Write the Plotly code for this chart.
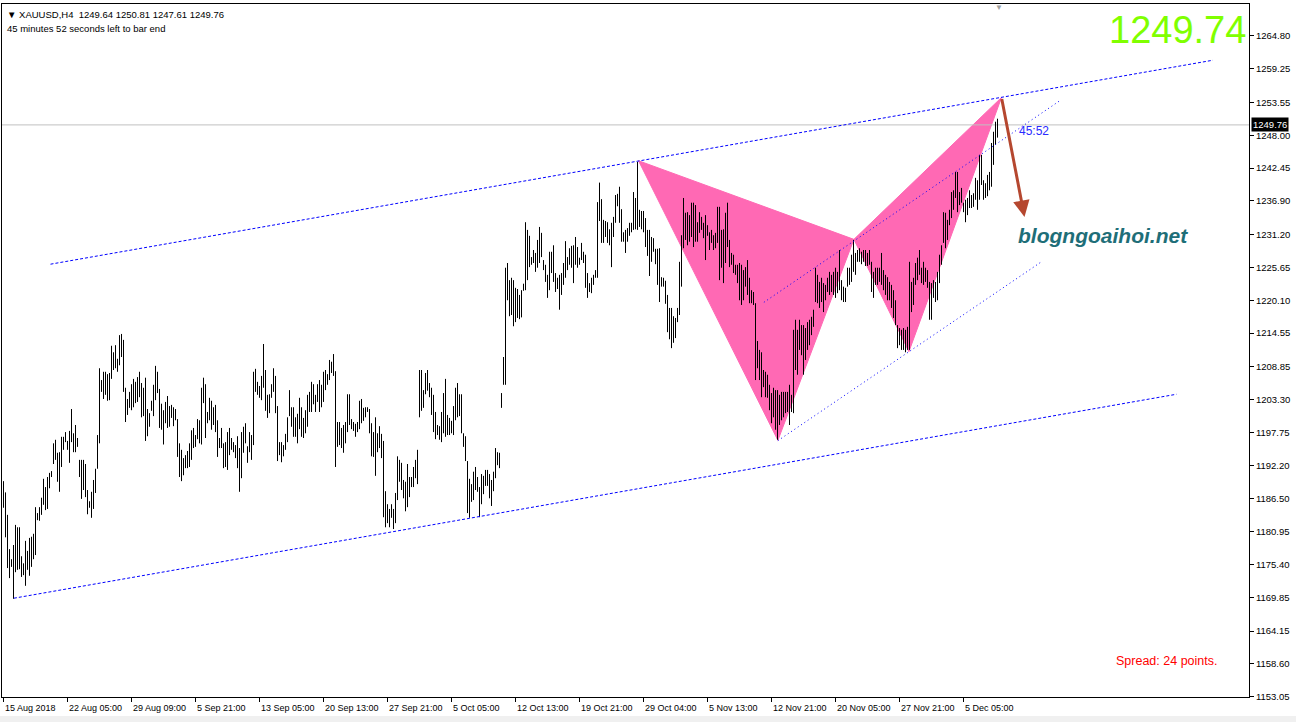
import plotly.graph_objects as go

# ---------------- data ----------------
symbol = "XAUUSD,H4"
last_ohlc = [1249.64, 1250.81, 1247.61, 1249.76]   # O H L C of current bar
bid_price = 1249.74
spread_points = 24
countdown = "45:52"
countdown_text = "45 minutes 52 seconds left to bar end"

highs = [
    1189.5, 1187.6, 1183.8, 1178.0, 1176.3, 1178.7, 1182.1, 1181.7, 1181.7, 1176.8,
    1175.6, 1179.4, 1177.7, 1179.9, 1180.1, 1180.6, 1185.1, 1184.1, 1185.1, 1186.7,
    1189.9, 1188.5, 1190.2, 1190.9, 1191.2, 1195.9, 1196.5, 1194.3, 1194.4, 1197.0,
    1197.0, 1197.8, 1196.3, 1198.0, 1201.7, 1197.6, 1199.0, 1196.8, 1193.1, 1193.1,
    1193.1, 1192.4, 1188.0, 1186.1, 1187.7, 1189.7, 1191.6, 1197.3, 1208.6, 1206.6,
    1208.0, 1208.0, 1207.6, 1207.8, 1212.4, 1211.3, 1212.5, 1210.2, 1214.2, 1214.4,
    1213.4, 1205.3, 1203.4, 1204.6, 1205.9, 1206.8, 1206.3, 1207.1, 1208.0, 1206.1,
    1205.3, 1207.0, 1201.7, 1201.0, 1203.1, 1205.8, 1209.0, 1208.0, 1205.1, 1202.6,
    1201.5, 1202.9, 1203.9, 1202.2, 1202.4, 1202.0, 1201.7, 1200.0, 1195.9, 1194.8,
    1193.4, 1193.9, 1194.6, 1195.9, 1198.1, 1198.5, 1197.3, 1200.0, 1199.8, 1205.3,
    1207.0, 1205.9, 1201.2, 1203.6, 1203.1, 1202.0, 1202.4, 1199.8, 1196.8, 1198.5,
    1195.9, 1196.1, 1197.8, 1198.5, 1196.8, 1196.1, 1195.6, 1197.1, 1195.1, 1197.8,
    1198.7, 1199.3, 1195.4, 1197.8, 1197.3, 1208.0, 1208.5, 1206.3, 1205.6, 1207.3,
    1212.7, 1208.3, 1204.1, 1204.2, 1205.9, 1208.6, 1207.3, 1202.2, 1196.1, 1196.1,
    1195.6, 1197.5, 1200.3, 1204.9, 1202.0, 1202.0, 1200.3, 1200.9, 1203.6, 1202.0,
    1200.2, 1201.5, 1204.1, 1204.6, 1206.3, 1205.9, 1204.1, 1205.9, 1206.6, 1205.8,
    1208.0, 1208.3, 1207.6, 1210.0, 1209.7, 1211.0, 1208.1, 1199.5, 1199.5, 1198.5,
    1199.0, 1199.5, 1204.2, 1204.2, 1200.0, 1199.5, 1199.2, 1199.5, 1203.1, 1203.4,
    1201.9, 1202.0, 1202.0, 1201.7, 1199.3, 1197.8, 1200.3, 1197.6, 1198.8, 1197.5,
    1196.3, 1187.8, 1185.6, 1184.8, 1185.6, 1184.8, 1187.5, 1193.7, 1193.1, 1192.6,
    1189.7, 1189.4, 1192.4, 1190.2, 1190.2, 1191.9, 1193.1, 1194.8, 1208.3, 1208.3,
    1204.9, 1207.8, 1208.3, 1206.1, 1205.3, 1204.1, 1201.2, 1199.0, 1198.8, 1201.2,
    1204.4, 1206.8, 1200.7, 1200.2, 1199.7, 1202.2, 1205.3, 1206.1, 1204.2, 1204.2,
    1197.6, 1197.1, 1192.9, 1189.9, 1189.0, 1191.1, 1191.9, 1190.2, 1188.5, 1190.7,
    1190.4, 1191.4, 1191.4, 1190.7, 1189.7, 1191.1, 1195.1, 1194.4, 1194.3, 1204.4,
    1210.5, 1225.6, 1226.4, 1223.5, 1223.9, 1223.5, 1222.2, 1222.0, 1221.0, 1221.8,
    1222.9, 1233.3, 1232.0, 1231.0, 1227.4, 1228.6, 1228.1, 1230.3, 1232.5, 1231.5,
    1226.9, 1226.1, 1224.4, 1228.3, 1228.3, 1229.4, 1224.7, 1223.9, 1224.4, 1224.7,
    1226.4, 1230.1, 1227.4, 1228.9, 1229.3, 1229.4, 1230.8, 1229.1, 1227.3, 1229.8,
    1228.3, 1227.8, 1224.7, 1223.0, 1223.9, 1224.4, 1225.2, 1236.7, 1240.0, 1237.2,
    1233.7, 1233.5, 1233.3, 1232.1, 1233.2, 1234.2, 1237.9, 1238.1, 1239.3, 1235.5,
    1231.6, 1232.0, 1232.3, 1233.2, 1233.2, 1238.4, 1237.4, 1243.5, 1235.4, 1235.2,
    1235.2, 1234.0, 1232.0, 1232.0, 1230.8, 1230.6, 1228.8, 1228.8, 1228.9, 1224.0,
    1223.9, 1223.4, 1221.0, 1218.8, 1218.8, 1217.4, 1217.1, 1218.8, 1226.6, 1231.1,
    1237.4, 1234.9, 1235.0, 1234.5, 1236.6, 1236.6, 1236.2, 1233.3, 1235.0, 1234.2,
    1233.2, 1234.5, 1232.8, 1231.6, 1232.0, 1231.1, 1231.5, 1235.9, 1235.9, 1232.0,
    1232.1, 1234.9, 1236.6, 1230.3, 1228.1, 1227.8, 1226.1, 1226.1, 1226.4, 1226.1,
    1225.2, 1225.7, 1226.9, 1223.9, 1221.8, 1221.5, 1219.6, 1213.2, 1211.7, 1211.3,
    1208.3, 1208.0, 1207.5, 1205.8, 1204.4, 1205.3, 1204.9, 1204.9, 1204.1, 1204.6,
    1204.6, 1204.6, 1204.6, 1205.8, 1204.1, 1215.1, 1216.8, 1215.1, 1216.8, 1215.9,
    1215.9, 1215.4, 1216.4, 1216.8, 1217.3, 1218.5, 1225.6, 1224.4, 1223.2, 1223.9,
    1223.0, 1222.7, 1223.9, 1224.9, 1224.4, 1224.9, 1225.6, 1224.9, 1228.6, 1223.5,
    1222.4, 1222.2, 1225.6, 1225.6, 1227.8, 1230.3, 1228.1, 1228.6, 1228.9, 1228.3,
    1228.6, 1228.6, 1228.1, 1228.6, 1226.6, 1224.9, 1225.6, 1225.6, 1225.6, 1228.1,
    1225.2, 1224.4, 1224.0, 1223.2, 1222.7, 1221.8, 1220.1, 1215.9, 1215.4, 1215.1,
    1215.4, 1215.1, 1215.6, 1226.6, 1223.2, 1223.9, 1226.4, 1227.3, 1228.6, 1225.6,
    1226.6, 1225.6, 1225.2, 1223.2, 1223.0, 1223.5, 1223.2, 1224.9, 1227.8, 1229.4,
    1235.0, 1234.9, 1233.7, 1235.4, 1238.4, 1238.7, 1241.8, 1241.8, 1238.4, 1239.1,
    1236.6, 1237.1, 1237.4, 1238.7, 1237.9, 1238.2, 1240.8, 1240.4, 1244.7, 1244.7,
    1240.4, 1239.9, 1241.3, 1241.8, 1246.7, 1248.6, 1250.3, 1250.81,
]

lows = [
    1185.0, 1180.0, 1174.8, 1173.1, 1175.0, 1169.6, 1174.1, 1174.5, 1174.6, 1173.3,
    1173.6, 1171.8, 1174.5, 1173.5, 1175.0, 1176.3, 1177.0, 1182.9, 1182.8, 1183.8,
    1185.5, 1184.6, 1184.8, 1188.3, 1190.2, 1192.4, 1193.1, 1189.4, 1187.7, 1191.9,
    1194.8, 1196.1, 1194.8, 1192.6, 1196.1, 1194.4, 1194.4, 1195.3, 1190.2, 1186.5,
    1188.0, 1186.8, 1183.9, 1185.0, 1183.3, 1184.8, 1187.5, 1191.6, 1195.9, 1204.6,
    1203.4, 1204.1, 1203.1, 1203.2, 1206.8, 1208.3, 1208.6, 1208.0, 1209.1, 1210.5,
    1204.6, 1199.5, 1200.7, 1201.9, 1201.5, 1202.0, 1202.7, 1202.9, 1203.7, 1200.3,
    1200.5, 1196.3, 1197.1, 1198.7, 1201.4, 1200.5, 1203.2, 1204.4, 1198.5, 1198.2,
    1195.7, 1199.3, 1198.5, 1198.7, 1200.2, 1198.8, 1199.8, 1193.6, 1190.2, 1189.5,
    1190.5, 1191.7, 1191.7, 1191.9, 1193.1, 1195.1, 1195.3, 1196.6, 1195.9, 1195.7,
    1202.7, 1196.8, 1199.3, 1199.8, 1198.2, 1199.0, 1197.8, 1193.6, 1195.1, 1195.1,
    1191.7, 1191.9, 1191.4, 1193.9, 1194.8, 1194.4, 1193.4, 1191.7, 1187.7, 1190.0,
    1194.3, 1195.9, 1192.6, 1194.4, 1193.1, 1195.6, 1204.6, 1204.1, 1203.6, 1203.2,
    1205.3, 1201.4, 1200.2, 1201.0, 1203.6, 1204.6, 1201.0, 1192.9, 1193.9, 1192.7,
    1193.7, 1194.8, 1196.1, 1200.5, 1198.7, 1197.0, 1197.0, 1195.9, 1198.3, 1197.0,
    1196.8, 1197.6, 1198.7, 1201.2, 1201.2, 1202.5, 1201.2, 1202.9, 1201.2, 1202.0,
    1202.9, 1204.9, 1205.8, 1206.6, 1207.8, 1207.3, 1191.9, 1195.3, 1195.6, 1195.1,
    1194.3, 1195.9, 1197.8, 1199.0, 1198.3, 1198.0, 1197.0, 1197.8, 1198.3, 1199.3,
    1199.7, 1200.3, 1201.2, 1197.6, 1193.7, 1193.6, 1190.4, 1194.4, 1195.1, 1193.4,
    1183.4, 1181.7, 1182.4, 1181.7, 1183.3, 1181.4, 1182.4, 1186.3, 1189.4, 1188.0,
    1186.6, 1184.4, 1185.1, 1186.8, 1188.5, 1188.5, 1190.0, 1189.0, 1200.3, 1201.4,
    1201.9, 1204.2, 1204.8, 1203.7, 1200.7, 1197.8, 1196.6, 1197.3, 1196.5, 1196.1,
    1197.6, 1197.0, 1197.3, 1197.3, 1197.6, 1197.3, 1199.8, 1200.3, 1200.5, 1197.6,
    1195.3, 1192.9, 1184.1, 1183.3, 1186.0, 1186.3, 1188.0, 1187.7, 1183.4, 1185.6,
    1187.3, 1188.7, 1188.7, 1186.6, 1185.3, 1187.8, 1190.0, 1192.2, 1191.7, 1201.9,
    1205.8, 1205.8, 1220.1, 1217.4, 1217.6, 1215.7, 1216.4, 1217.1, 1216.9, 1217.2,
    1221.7, 1221.8, 1223.5, 1225.7, 1226.1, 1226.4, 1224.9, 1225.6, 1226.4, 1227.4,
    1225.2, 1223.2, 1220.5, 1221.8, 1224.7, 1223.2, 1221.5, 1222.0, 1218.5, 1221.0,
    1222.7, 1223.9, 1225.2, 1226.1, 1225.6, 1223.0, 1226.1, 1225.6, 1226.1, 1226.9,
    1226.4, 1222.2, 1220.5, 1221.5, 1221.3, 1222.7, 1223.9, 1223.9, 1233.5, 1229.8,
    1229.8, 1230.8, 1229.8, 1229.4, 1225.7, 1230.8, 1233.2, 1236.0, 1233.2, 1230.0,
    1230.0, 1228.1, 1230.0, 1231.0, 1231.6, 1232.0, 1232.1, 1232.0, 1232.5, 1232.1,
    1231.6, 1229.1, 1227.6, 1224.2, 1226.6, 1228.3, 1226.2, 1222.7, 1219.8, 1222.4,
    1222.4, 1219.5, 1214.7, 1213.5, 1212.0, 1212.9, 1213.7, 1216.4, 1217.6, 1222.4,
    1228.9, 1230.3, 1229.4, 1230.0, 1230.8, 1229.1, 1230.0, 1230.0, 1231.5, 1232.0,
    1230.6, 1226.9, 1231.0, 1228.6, 1229.8, 1228.6, 1228.9, 1229.8, 1223.5, 1225.6,
    1223.0, 1226.4, 1229.1, 1225.7, 1226.1, 1224.7, 1224.4, 1223.0, 1220.1, 1219.3,
    1220.1, 1222.4, 1221.0, 1219.6, 1219.6, 1219.3, 1206.6, 1208.6, 1206.6, 1203.7,
    1205.4, 1203.7, 1203.6, 1201.5, 1199.3, 1200.3, 1198.2, 1196.5, 1199.0, 1199.8,
    1200.3, 1201.0, 1201.2, 1199.0, 1201.2, 1201.0, 1208.3, 1207.5, 1211.7, 1210.8,
    1207.5, 1210.0, 1211.7, 1212.5, 1214.2, 1215.6, 1219.8, 1219.6, 1218.8, 1219.8,
    1218.1, 1220.1, 1221.5, 1221.0, 1221.5, 1221.0, 1220.5, 1221.3, 1221.8, 1220.1,
    1219.8, 1219.8, 1222.4, 1222.7, 1223.2, 1224.9, 1224.4, 1226.6, 1226.6, 1226.2,
    1226.6, 1225.9, 1225.9, 1226.1, 1221.5, 1220.5, 1222.7, 1222.7, 1223.2, 1222.7,
    1221.8, 1221.0, 1220.1, 1220.1, 1218.8, 1217.1, 1215.9, 1212.0, 1212.5, 1211.7,
    1211.7, 1211.3, 1211.7, 1211.7, 1218.1, 1219.3, 1222.7, 1223.5, 1224.4, 1223.0,
    1222.7, 1223.2, 1222.2, 1216.8, 1216.8, 1220.5, 1219.8, 1220.1, 1223.0, 1226.1,
    1229.8, 1228.9, 1230.3, 1232.8, 1234.0, 1235.4, 1237.4, 1235.0, 1236.2, 1236.6,
    1235.0, 1233.3, 1234.5, 1235.7, 1235.7, 1235.9, 1237.1, 1235.4, 1237.1, 1239.6,
    1237.1, 1237.4, 1237.7, 1238.7, 1239.3, 1243.0, 1246.4, 1247.61,
]

time_labels = ["15 Aug 2018", "22 Aug 05:00", "29 Aug 09:00", "5 Sep 21:00",
               "13 Sep 05:00", "20 Sep 13:00", "27 Sep 21:00", "5 Oct 05:00",
               "12 Oct 13:00", "19 Oct 21:00", "29 Oct 04:00", "5 Nov 13:00",
               "12 Nov 21:00", "20 Nov 05:00", "27 Nov 21:00", "5 Dec 05:00"]
time_label_bar = [0, 32, 64, 96, 128, 160, 192, 224, 256, 288, 320, 352, 384, 416, 448, 480]

price_ticks = [1153.05, 1158.60, 1164.15, 1169.85, 1175.40, 1180.95, 1186.50,
               1192.20, 1197.75, 1203.30, 1208.85, 1214.55, 1220.10, 1225.65,
               1231.20, 1236.90, 1242.45, 1248.00, 1253.55, 1259.25, 1264.80]

# harmonic pattern points X, A, B, C, D (bar index, price)
pattern_bar = [317.5, 387.2, 425.2, 452.7, 499.0]
pattern_price = [1243.7, 1196.4, 1230.4, 1211.4, 1254.4]

# trend lines (bar index, price)
upper_channel_bar = [23.5, 604.7]
upper_channel_price = [1226.2, 1260.7]
lower_channel_bar = [5.2, 586.5]
lower_channel_price = [1169.7, 1204.2]
inner_upper_bar = [380.2, 528.2]
inner_upper_price = [1219.75, 1253.86]
inner_lower_bar = [387.2, 518.5]
inner_lower_price = [1196.35, 1226.5]

# projected move arrow (from D)
arrow_bar = [499.0, 510.5]
arrow_price = [1254.4, 1234.2]

# ---------------- figure ----------------
W, H = 1296, 722
ML, MR, MT, MB = 2, 47, 4, 25
FONT = "Liberation Sans"
X_RANGE = [-0.75, 622.75]

fig = go.Figure()

PINK = "#FF69B4"
X, A, B, C, D = range(5)
for tri in [(X, A, B), (B, C, D)]:
    fig.add_trace(go.Scatter(
        x=[pattern_bar[k] for k in tri] + [pattern_bar[tri[0]]],
        y=[pattern_price[k] for k in tri] + [pattern_price[tri[0]]],
        mode="lines", fill="toself", fillcolor=PINK,
        line=dict(color=PINK, width=1), hoverinfo="skip"))

# current price line
fig.add_trace(go.Scatter(x=X_RANGE, y=[last_ohlc[3], last_ohlc[3]], mode="lines",
                         line=dict(color="#C0C0C0", width=1), hoverinfo="skip"))

# bars (high-low)
bx, by = [], []
for i, (h, l) in enumerate(zip(highs, lows)):
    bx += [i, i, None]
    by += [l, h, None]
fig.add_trace(go.Scatter(x=bx, y=by, mode="lines",
                         line=dict(color="black", width=1), hoverinfo="skip"))

# trend lines
for xs, ys, dash in [(upper_channel_bar, upper_channel_price, "3px,2px"),
                     (lower_channel_bar, lower_channel_price, "3px,2px"),
                     (inner_upper_bar, inner_upper_price, "1px,3px"),
                     (inner_lower_bar, inner_lower_price, "1px,3px")]:
    fig.add_trace(go.Scatter(x=xs, y=ys, mode="lines",
                             line=dict(color="#0000FF", width=1, dash=dash),
                             hoverinfo="skip"))

pw = W - ML - MR
ph = H - MT - MB


def px(xpix):
    return (xpix - ML) / pw


def py(ypix):
    return (H - MB - ypix) / ph


annotations = []
for b, lab in zip(time_label_bar, time_labels):
    annotations.append(dict(x=b, xref="x", y=0, yref="paper", xanchor="left",
                            yanchor="top", xshift=-1, yshift=-4, text=lab,
                            showarrow=False, font=dict(family=FONT, size=9, color="black")))

# arrow
annotations.append(dict(x=arrow_bar[1], y=arrow_price[1], ax=arrow_bar[0], ay=arrow_price[0],
                        xref="x", yref="y", axref="x", ayref="y", text="",
                        showarrow=True, arrowhead=2, arrowsize=1.1, arrowwidth=3,
                        arrowcolor="#B5472F"))

o, h_, l_, c_ = last_ohlc
annotations += [
    dict(x=px(5), y=py(14), xref="paper", yref="paper", xanchor="left", yanchor="middle",
         text=f"▼ {symbol}  {o:.2f} {h_:.2f} {l_:.2f} {c_:.2f}", showarrow=False,
         font=dict(family=FONT, size=9.5, color="black")),
    dict(x=px(5), y=py(28), xref="paper", yref="paper", xanchor="left", yanchor="middle",
         text=countdown_text, showarrow=False,
         font=dict(family=FONT, size=9.5, color="black")),
    dict(x=px(1248), y=py(30), xref="paper", yref="paper", xanchor="right", yanchor="middle",
         text=f"{bid_price:.2f}", showarrow=False,
         font=dict(family=FONT, size=38, color="#80FF00")),
    dict(x=px(1016), y=py(235), xref="paper", yref="paper", xanchor="left", yanchor="middle",
         text="<b><i>blogngoaihoi.net</i></b>", showarrow=False,
         font=dict(family=FONT, size=21, color="#1E6E78")),
    dict(x=px(1114), y=py(661), xref="paper", yref="paper", xanchor="left", yanchor="middle",
         text=f"Spread: {spread_points} points.", showarrow=False,
         font=dict(family=FONT, size=12.5, color="#FF0000")),
    dict(x=px(1017), y=py(131), xref="paper", yref="paper", xanchor="left", yanchor="middle",
         text=countdown, showarrow=False,
         font=dict(family=FONT, size=12, color="#2A2AFF")),
    dict(x=px(1251), y=c_, xref="paper", yref="y", xanchor="left", yanchor="middle",
         text=f"{c_:.2f}", showarrow=False, bgcolor="black", borderpad=1,
         font=dict(family=FONT, size=9.5, color="white")),
    dict(x=px(999), y=py(8), xref="paper", yref="paper", xanchor="center", yanchor="middle",
         text="▼", showarrow=False, font=dict(family=FONT, size=8, color="#A0A0A0")),
]

shapes = [
    dict(type="rect", xref="paper", yref="paper", x0=-0.01, x1=1.05,
         y0=py(722), y1=py(716), fillcolor="#F0F0F0", line=dict(width=0), layer="below"),
]

fig.update_layout(
    width=W, height=H,
    margin=dict(l=ML, r=MR, t=MT, b=MB),
    paper_bgcolor="white", plot_bgcolor="white",
    showlegend=False,
    annotations=annotations,
    shapes=shapes,
    xaxis=dict(range=X_RANGE, showgrid=False, zeroline=False,
               showline=True, linecolor="black", linewidth=1, mirror=True,
               tickmode="array", tickvals=time_label_bar, ticks="outside",
               ticklen=4, tickcolor="black", showticklabels=False, fixedrange=True),
    yaxis=dict(range=[1152.99, 1270.21], side="right", showgrid=False, zeroline=False,
               showline=True, linecolor="black", linewidth=1, mirror=True,
               tickmode="array", tickvals=price_ticks,
               ticktext=[f"{v:.2f}" for v in price_ticks],
               ticks="outside", ticklen=4, tickcolor="black",
               tickfont=dict(family=FONT, size=9.5, color="black"), fixedrange=True),
)

fig.write_html("out.html", config={"displayModeBar": False},
               post_script="document.body.style.margin='0px';document.body.style.padding='0px';")
